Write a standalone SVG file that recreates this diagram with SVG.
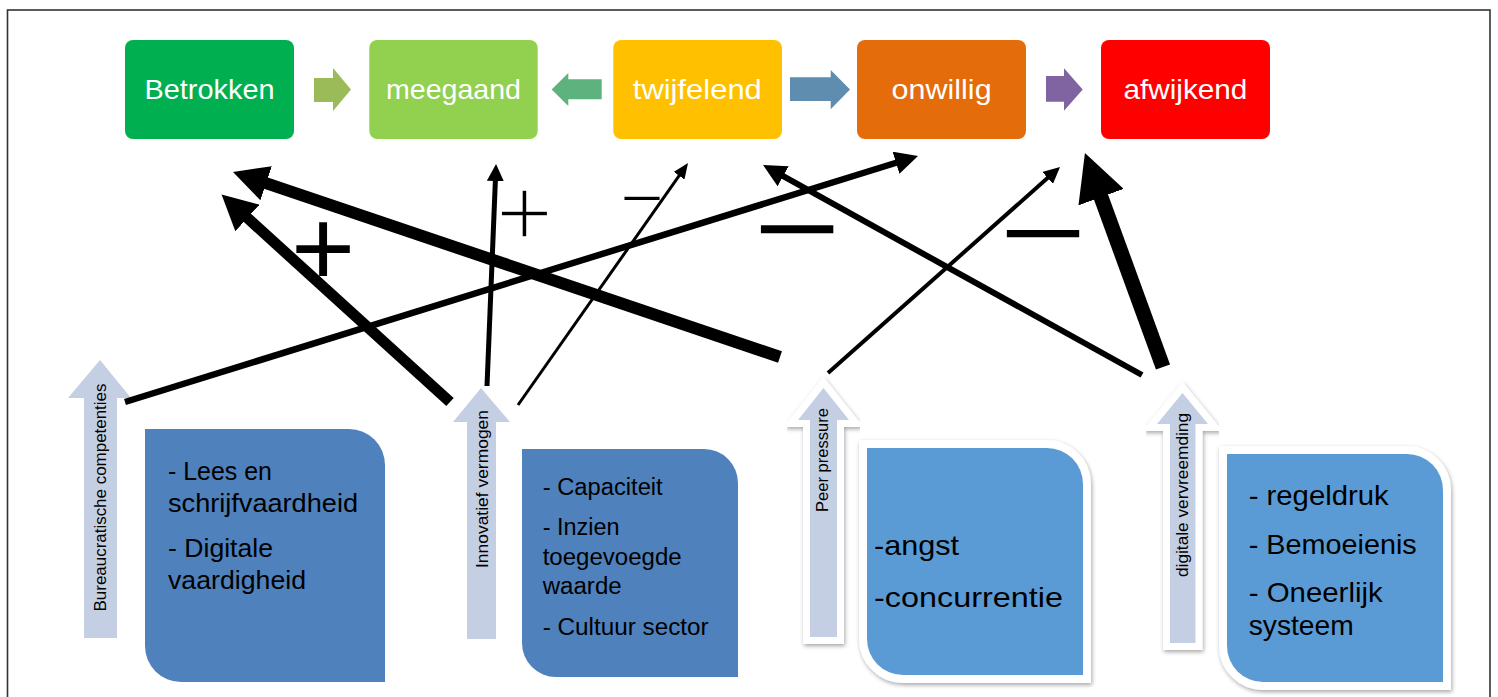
<svg xmlns="http://www.w3.org/2000/svg" width="1498" height="697" viewBox="0 0 1498 697">
<style>
.top{fill:#fff;font-family:"Liberation Sans",Arial,sans-serif;font-size:28px;text-anchor:middle}
.bt{fill:#000;font-family:"Liberation Sans",Arial,sans-serif}
.rot{fill:#000;font-family:"Liberation Sans",Arial,sans-serif;text-anchor:middle}
.up{fill:#C5CFE3}
.glow{fill:#fff;stroke:#fff;stroke-linejoin:miter;filter:url(#sh)}
.sign{fill:#000;font-family:"Liberation Sans",Arial,sans-serif;text-anchor:middle}
.thin{stroke:#fff;paint-order:fill}
.con line{stroke:#000;fill:none;stroke-linecap:butt}
</style>
<defs>
<filter id="sh" x="-20%" y="-20%" width="140%" height="140%">
<feDropShadow dx="1" dy="2" stdDeviation="2" flood-color="#000" flood-opacity="0.35"/>
</filter>
<marker id="mH" markerUnits="userSpaceOnUse" viewBox="0 -24 47 48" markerWidth="47" markerHeight="48" refX="1" refY="0" orient="auto"><path d="M0,-24 L47,0 L0,24 z" fill="#000"/></marker>
<marker id="mL" markerUnits="userSpaceOnUse" viewBox="0 -18 35 36" markerWidth="35" markerHeight="36" refX="1" refY="0" orient="auto"><path d="M0,-18 L35,0 L0,18 z" fill="#000"/></marker>
<marker id="mM" markerUnits="userSpaceOnUse" viewBox="0 -11.5 23 23" markerWidth="23" markerHeight="23" refX="1" refY="0" orient="auto"><path d="M0,-11.5 L23,0 L0,11.5 z" fill="#000"/></marker>
<marker id="mC" markerUnits="userSpaceOnUse" viewBox="0 -8.5 17 17" markerWidth="17" markerHeight="17" refX="1" refY="0" orient="auto"><path d="M0,-8.5 L17,0 L0,8.5 z" fill="#000"/></marker>
<marker id="mG" markerUnits="userSpaceOnUse" viewBox="0 -8 16.5 16" markerWidth="16.5" markerHeight="16" refX="1" refY="0" orient="auto"><path d="M0,-8 L16.5,0 L0,8 z" fill="#000"/></marker>
<marker id="mD" markerUnits="userSpaceOnUse" viewBox="0 -6.5 15.5 13" markerWidth="15.5" markerHeight="13" refX="1" refY="0" orient="auto"><path d="M0,-6.5 L15.5,0 L0,6.5 z" fill="#000"/></marker>
</defs>
<rect x="0" y="0" width="1498" height="697" fill="#fff"/>
<rect x="7.5" y="10" width="1482.5" height="700" fill="none" stroke="#333" stroke-width="1.6"/>

<g id="n-betrokken"><rect x="125" y="40" width="169" height="99" rx="8" fill="#00B050"/><text class="top" x="209.5" y="99" textLength="130" lengthAdjust="spacingAndGlyphs">Betrokken</text></g>
<g id="n-meegaand"><rect x="369.3" y="40" width="168.4" height="99" rx="8" fill="#92D050"/><text class="top" x="453.5" y="99" textLength="135" lengthAdjust="spacingAndGlyphs">meegaand</text></g>
<g id="n-twijfelend"><rect x="613.3" y="40" width="168.7" height="99" rx="8" fill="#FFC000"/><text class="top" x="697.3" y="99" textLength="129" lengthAdjust="spacingAndGlyphs">twijfelend</text></g>
<g id="n-onwillig"><rect x="857" y="40" width="169" height="99" rx="8" fill="#E46C0A"/><text class="top" x="941.6" y="99" textLength="100" lengthAdjust="spacingAndGlyphs">onwillig</text></g>
<g id="n-afwijkend"><rect x="1101" y="40" width="169" height="99" rx="8" fill="#FF0000"/><text class="top" x="1185.4" y="99" textLength="124" lengthAdjust="spacingAndGlyphs">afwijkend</text></g>

<g id="n-bureaucratisch">
<polygon class="up" points="100,360 131,398 117,398 117,638 84,638 84,398 68,398"/>
<text class="rot" font-size="17" transform="translate(105.5,497.5) rotate(-90)" textLength="228" lengthAdjust="spacingAndGlyphs">Bureaucratische competenties</text>
<path d="M145,429 H349 A36,36 0 0 1 385,465 V682 H181 A36,36 0 0 1 145,646 Z" fill="#4F81BD"/>
<text class="bt" font-size="25" x="168" y="480" textLength="104" lengthAdjust="spacingAndGlyphs">- Lees en</text>
<text class="bt" font-size="25" x="168" y="512" textLength="190" lengthAdjust="spacingAndGlyphs">schrijfvaardheid</text>
<text class="bt" font-size="25" x="168" y="557" textLength="105" lengthAdjust="spacingAndGlyphs">- Digitale</text>
<text class="bt" font-size="25" x="168" y="588.5" textLength="138" lengthAdjust="spacingAndGlyphs">vaardigheid</text>
</g>

<g id="n-innovatief">
<polygon class="up" points="481,388 510,422 496,422 496,639 467,639 467,422 453,422"/>
<text class="rot" font-size="16" transform="translate(487.5,489) rotate(-90)" textLength="158" lengthAdjust="spacingAndGlyphs">Innovatief vermogen</text>
<path d="M522,449 H704 A34,34 0 0 1 738,483 V677 H556 A34,34 0 0 1 522,643 Z" fill="#4F81BD"/>
<text class="bt" font-size="23" x="542.7" y="495" textLength="120" lengthAdjust="spacingAndGlyphs">- Capaciteit</text>
<text class="bt" font-size="23" x="542.7" y="535" textLength="77" lengthAdjust="spacingAndGlyphs">- Inzien</text>
<text class="bt" font-size="23" x="542.7" y="564.5" textLength="139" lengthAdjust="spacingAndGlyphs">toegevoegde</text>
<text class="bt" font-size="23" x="542.7" y="593.5" textLength="79" lengthAdjust="spacingAndGlyphs">waarde</text>
<text class="bt" font-size="23" x="542.7" y="635" textLength="166" lengthAdjust="spacingAndGlyphs">- Cultuur sector</text>
</g>

<g id="n-peer">
<polygon class="glow" stroke-width="14" points="823.5,388 849,420 837,420 837,637 810,637 810,420 798,420"/>
<polygon class="up" points="823.5,388 849,420 837,420 837,637 810,637 810,420 798,420"/>
<text class="rot" font-size="16" transform="translate(828,460) rotate(-90)" textLength="104" lengthAdjust="spacingAndGlyphs">Peer pressure</text>
<path class="glow" stroke-width="16" d="M867,448 H1047 A36,36 0 0 1 1083,484 V675 H903 A36,36 0 0 1 867,639 Z"/>
<path d="M867,448 H1047 A36,36 0 0 1 1083,484 V675 H903 A36,36 0 0 1 867,639 Z" fill="#5B9BD5"/>
<text class="bt" font-size="28" x="874" y="555" textLength="85" lengthAdjust="spacingAndGlyphs">-angst</text>
<text class="bt" font-size="28" x="874" y="607" textLength="189" lengthAdjust="spacingAndGlyphs">-concurrentie</text>
</g>

<g id="n-digitaal">
<polygon class="glow" stroke-width="14" points="1182.5,393 1208,424 1195.5,424 1195.5,643 1170,643 1170,424 1157,424"/>
<polygon class="up" points="1182.5,393 1208,424 1195.5,424 1195.5,643 1170,643 1170,424 1157,424"/>
<text class="rot" font-size="16" transform="translate(1188,495) rotate(-90)" textLength="164" lengthAdjust="spacingAndGlyphs">digitale vervreemding</text>
<path class="glow" stroke-width="16" d="M1227,454 H1407 A36,36 0 0 1 1443,490 V682 H1263 A36,36 0 0 1 1227,646 Z"/>
<path d="M1227,454 H1407 A36,36 0 0 1 1443,490 V682 H1263 A36,36 0 0 1 1227,646 Z" fill="#5B9BD5"/>
<text class="bt" font-size="28" x="1248.7" y="505" textLength="140" lengthAdjust="spacingAndGlyphs">- regeldruk</text>
<text class="bt" font-size="28" x="1248.7" y="553.5" textLength="168" lengthAdjust="spacingAndGlyphs">- Bemoeienis</text>
<text class="bt" font-size="28" x="1248.7" y="602" textLength="134" lengthAdjust="spacingAndGlyphs">- Oneerlijk</text>
<text class="bt" font-size="28" x="1248.7" y="635" textLength="105" lengthAdjust="spacingAndGlyphs">systeem</text>
</g>

<g id="labels">
<text class="sign" font-size="110" x="323" y="285.8">+</text>
<text class="sign thin" font-size="100" stroke-width="3.6" x="524.5" y="247.3">+</text>
<text class="sign thin" font-size="77" stroke-width="2.2" x="642" y="223.7">−</text>
<text class="sign" font-size="110" x="797" y="265.8" textLength="87" lengthAdjust="spacingAndGlyphs">−</text>
<text class="sign" font-size="100" x="1043" y="267" textLength="87" lengthAdjust="spacingAndGlyphs">−</text>
</g>

<g id="connectors" class="con">
<polygon points="314,78 333,78 333,68 351,89.5 333,111 333,102 314,102" fill="#9BBB59"/>
<polygon points="601.7,79.3 568.3,79.3 568.3,73 551.7,89.5 568.3,106 568.3,99.3 601.7,99.3" fill="#5DB27E"/>
<polygon points="790,77.3 830.7,77.3 830.7,70 850,89.5 830.7,109.3 830.7,101 790,101" fill="#5F8DAF"/>
<polygon points="1046,76 1064,76 1064,68.3 1082.7,89.5 1064,110.7 1064,101.7 1046,101.7" fill="#8064A2"/>
<line x1="780" y1="357" x2="265.2" y2="182.9" stroke-width="12" marker-end="url(#mL)"/>
<line x1="450" y1="402" x2="246.7" y2="217.3" stroke-width="11" marker-end="url(#mL)"/>
<line x1="487" y1="386" x2="495.4" y2="180" stroke-width="5" marker-end="url(#mC)"/>
<line x1="518" y1="405" x2="679.7" y2="174.9" stroke-width="3" marker-end="url(#mD)"/>
<line x1="125" y1="402" x2="897" y2="162.5" stroke-width="6.5" marker-end="url(#mM)"/>
<line x1="1142" y1="375" x2="782.3" y2="175.7" stroke-width="6" marker-end="url(#mM)"/>
<line x1="828" y1="373" x2="1048.4" y2="177.3" stroke-width="4" marker-end="url(#mG)"/>
<line x1="1163" y1="367" x2="1100.7" y2="196.2" stroke-width="15" marker-end="url(#mH)"/>
</g>
</svg>
